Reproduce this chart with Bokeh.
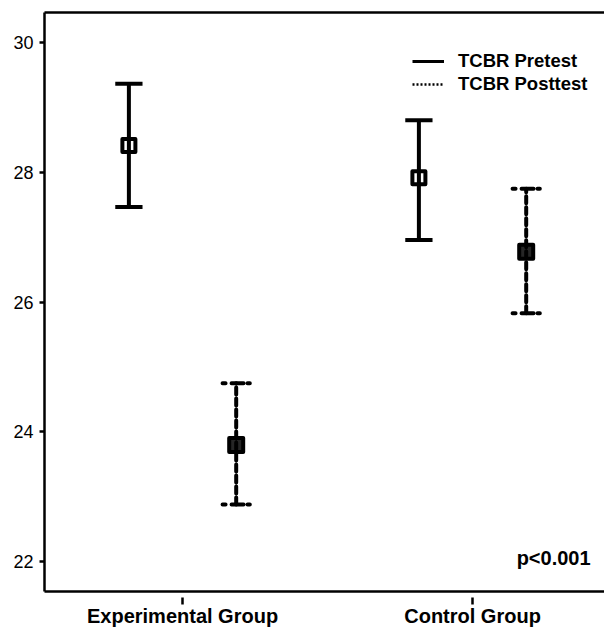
from bokeh.plotting import figure
from bokeh.models import (FixedTicker, LinearAxis, Legend, LegendItem, Label, Range1d)
from bokeh.embed import file_html
from bokeh.resources import INLINE

# ---- data ----
groups = ["Experimental Group", "Control Group"]
group_pos = [1, 2]
pre_mean = [28.42, 27.92]
pre_lower = [27.47, 26.96]
pre_upper = [29.37, 28.81]
post_mean = [23.80, 26.78]
post_lower = [22.88, 25.83]
post_upper = [24.75, 27.75]
y_ticks = [22, 24, 26, 28, 30]
series_names = ["TCBR Pretest", "TCBR Posttest"]
p_text = "p<0.001"

FONT = "Liberation Sans"
dodge = 0.185
cap = 0.047

p = figure(width=604, height=629, output_backend="svg", toolbar_location=None,
           x_range=Range1d(0.524, 2.455), y_range=Range1d(21.54, 30.47),
           min_border_left=44, min_border_right=0, min_border_top=12,
           min_border_bottom=37)
p.grid.visible = False
p.outline_line_color = None

pre_x = [g - dodge for g in group_pos]
post_x = [g + dodge for g in group_pos]

# pretest error bars (solid)
p.segment(x0=pre_x, x1=pre_x, y0=pre_lower, y1=pre_upper, line_width=4, line_color="black")
p.segment(x0=[x - cap for x in pre_x], x1=[x + cap for x in pre_x], y0=pre_lower, y1=pre_lower,
          line_width=4, line_color="black")
p.segment(x0=[x - cap for x in pre_x], x1=[x + cap for x in pre_x], y0=pre_upper, y1=pre_upper,
          line_width=4, line_color="black")
p.scatter(x=pre_x, y=pre_mean, marker="square", size=13, fill_alpha=0,
          line_color="black", line_width=4, line_join="round")

# posttest error bars (dashed)
p.segment(x0=post_x, x1=post_x, y0=post_lower, y1=post_upper, line_width=4, line_color="black",
          line_dash="7 4", line_cap="round")
p.segment(x0=[x - cap for x in post_x], x1=[x + cap for x in post_x], y0=post_lower, y1=post_lower,
          line_width=4, line_color="black", line_dash="3 6 12 4", line_cap="round")
p.segment(x0=[x - cap for x in post_x], x1=[x + cap for x in post_x], y0=post_upper, y1=post_upper,
          line_width=4, line_color="black", line_dash="3 6 12 4", line_cap="round")
p.scatter(x=post_x, y=post_mean, marker="square", size=14, fill_color="black", fill_alpha=0.85,
          line_color="black", line_width=4, line_join="round")

# legend proxies (placed outside the visible range)
r_pre = p.line(x=[-5, -4], y=[0, 0], line_width=3, line_color="black")
r_post = p.line(x=[-5, -4], y=[0, 0], line_width=2.5, line_color="black", line_dash="2 2")
legend = Legend(items=[LegendItem(label=series_names[0], renderers=[r_pre]),
                       LegendItem(label=series_names[1], renderers=[r_post])],
                location=(368, 496), label_text_font=FONT, label_text_font_size="18.5px",
                label_text_font_style="bold", label_text_color="black",
                glyph_width=32, glyph_height=20,
                label_height=20, spacing=1, padding=0, margin=0, label_standoff=14,
                border_line_color=None, background_fill_alpha=0)
p.add_layout(legend)

# p-value label
p.add_layout(Label(x=2.407, y=22.06, text=p_text, text_align="right", text_baseline="middle",
                   text_font=FONT, text_font_size="20px", text_font_style="bold",
                   text_color="black"))

# axes
ya = p.yaxis[0]
ya.ticker = FixedTicker(ticks=y_ticks)
ya.axis_line_width = 2.5
ya.major_tick_out = 5
ya.major_tick_in = 0
ya.major_tick_line_width = 2.5
ya.minor_tick_line_color = None
ya.major_label_standoff = 6
ya.major_label_text_font = FONT
ya.major_label_text_font_size = "18px"
ya.major_label_text_color = "black"

xa = p.xaxis[0]
xa.ticker = FixedTicker(ticks=group_pos)
xa.major_label_overrides = {g: n for g, n in zip(group_pos, groups)}
xa.axis_line_width = 2.5
xa.major_tick_out = 13
xa.major_tick_in = -6
xa.major_tick_line_width = 2.5
xa.minor_tick_line_color = None
xa.major_label_standoff = 0
xa.major_label_text_font = FONT
xa.major_label_text_font_size = "20px"
xa.major_label_text_font_style = "bold"
xa.major_label_text_color = "black"

top = LinearAxis(ticker=FixedTicker(ticks=[]), major_tick_out=0, major_tick_in=0,
                 minor_tick_line_color=None, major_label_text_font_size="0px",
                 axis_line_width=2.5, major_label_standoff=0)
p.add_layout(top, "above")

open("out.html", "w").write(file_html(p, INLINE))
